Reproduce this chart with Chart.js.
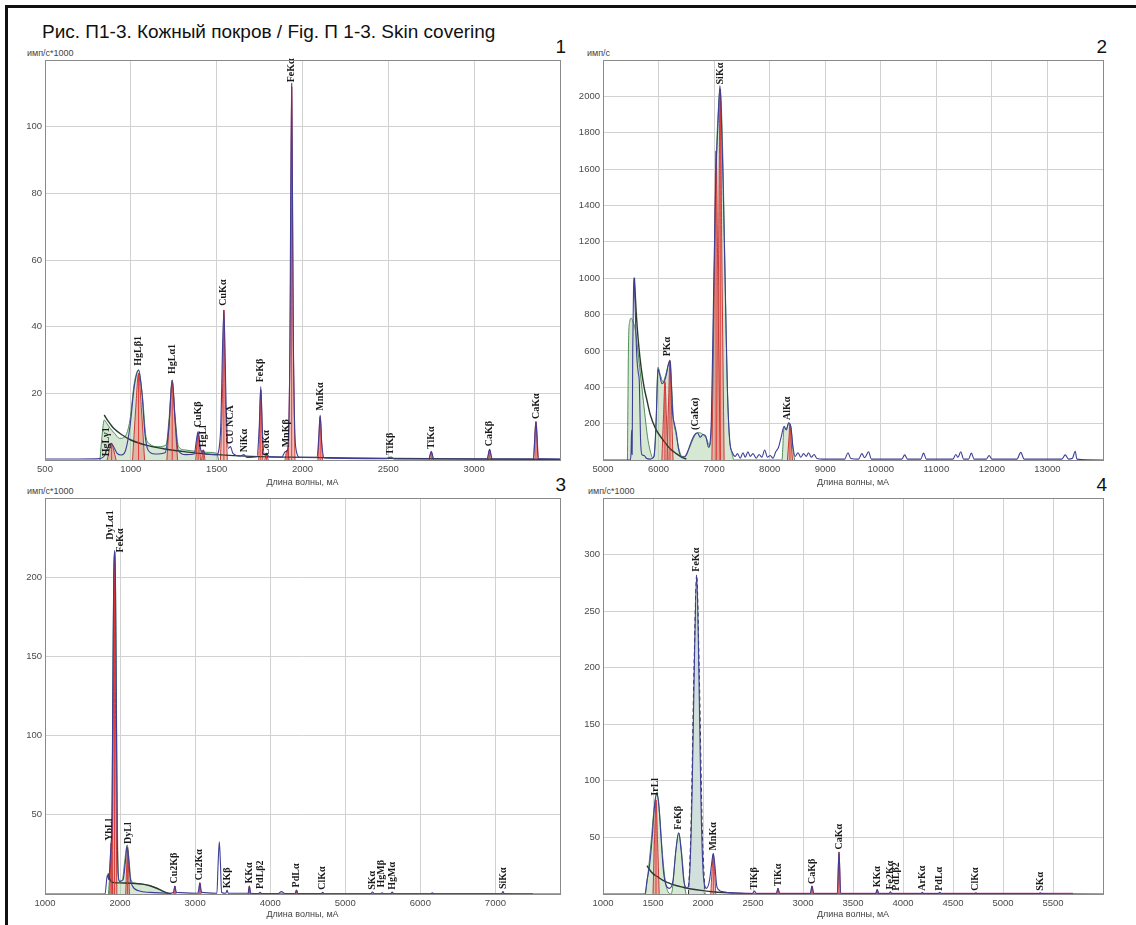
<!DOCTYPE html>
<html>
<head>
<meta charset="utf-8">
<script src="https://cdn.jsdelivr.net/npm/chart.js@4.4.1/dist/chart.umd.min.js"></script>
<style>
  html,body{margin:0;padding:0;background:#fff;}
  #wrap{position:relative;width:1136px;height:925px;overflow:hidden;background:#fff;font-family:'Liberation Sans',Arial,sans-serif;}
  canvas{position:absolute;}
  .txt{position:absolute;white-space:nowrap;color:#111;}
  .unit{position:absolute;white-space:nowrap;font-size:9px;color:#444;line-height:10px;}
  .num{position:absolute;font-size:19px;line-height:20px;color:#111;text-align:right;width:30px;}
  .bar{position:absolute;background:#111;}
</style>
</head>
<body>
<div id="wrap">
  <div class="bar" style="left:5px;top:5px;width:1131px;height:3px;"></div>
  <div class="bar" style="left:5px;top:5px;width:3px;height:920px;"></div>
  <div class="txt" style="left:42px;top:21px;font-size:19px;line-height:22px;">Рис. П1-3. Кожный покров / Fig. П 1-3. Skin covering</div>
  <div class="num" style="left:536px;top:37px;">1</div>
  <div class="num" style="left:1077px;top:37px;">2</div>
  <div class="num" style="left:536px;top:475px;">3</div>
  <div class="num" style="left:1077px;top:475px;">4</div>
  <div class="unit" style="left:27px;top:48px;">имп/с*1000</div>
  <div class="unit" style="left:587px;top:48px;">имп/с</div>
  <div class="unit" style="left:27px;top:486px;">имп/с*1000</div>
  <div class="unit" style="left:588px;top:486px;">имп/с*1000</div>
  <canvas id="c1" width="570" height="448" style="left:0px;top:40px;"></canvas>
  <canvas id="c2" width="548" height="448" style="left:565px;top:40px;"></canvas>
  <canvas id="c3" width="570" height="440" style="left:0px;top:480px;"></canvas>
  <canvas id="c4" width="548" height="440" style="left:565px;top:480px;"></canvas>
</div>
<script>
// ---------------- DATA ----------------
// Panel 1
const p1XTicks = [500, 1000, 1500, 2000, 2500, 3000];
const p1YTicks = [20, 40, 60, 80, 100];
const p1Measured = [[500,0.3],[700,0.3],[820,0.4],[845,1.2],[865,3.5],[885,5],[900,4],[920,2],[945,1.5],[970,3],[995,10],[1020,22],[1045,27],[1065,20],[1082,8],[1100,3],[1140,1.8],[1200,2.2],[1222,10],[1241,24],[1258,12],[1275,3],[1320,1.6],[1370,1.8],[1382,6],[1392,8.5],[1404,4],[1414,2.2],[1422,3],[1432,1.8],[1500,1.6],[1522,8],[1542,45],[1556,15],[1568,3.5],[1580,4],[1595,2],[1640,1.2],[1659,1.6],[1675,0.8],[1735,1],[1748,10],[1757,22],[1767,8],[1778,1.6],[1790,2],[1805,1],[1880,0.9],[1900,2.5],[1912,3],[1925,25],[1937,113],[1947,35],[1960,4],[1985,0.8],[2085,0.8],[2095,7],[2103,13.5],[2112,5],[2128,0.6],[2490,0.4],[2514,0.9],[2535,0.3],[2735,0.3],[2750,2.5],[2765,0.3],[3075,0.3],[3090,3.2],[3105,0.3],[3345,0.3],[3360,11.5],[3373,0.4],[3500,0.3]];
const p1Fit = [[820,0],[832,7],[845,12],[860,11],[880,9.5],[905,8],[935,6.5],[965,7],[995,12],[1020,23],[1045,27],[1068,19],[1088,7],[1110,4.8],[1160,4],[1205,4.5],[1222,12],[1241,24],[1258,13],[1278,4],[1320,3],[1380,2.6],[1392,8],[1405,3],[1450,2.3],[1500,2],[1512,0]];
const p1Bg = [[845,13.5],[870,11.5],[900,9.5],[950,7.5],[1000,6],[1100,4.3],[1200,3.3],[1300,2.6],[1400,2],[1500,1.6],[1700,1.1],[2000,0.8],[2500,0.5],[3000,0.3],[3500,0.2]];
const p1Peaks = [
  [[862,0],[875,3],[888,5],[900,3],[914,0]],
  [[1010,0],[1028,15],[1045,26],[1062,15],[1080,0]],
  [[1210,0],[1226,13],[1241,23.5],[1256,13],[1272,0]],
  [[1378,0],[1392,8],[1406,0]],
  [[1412,0],[1422,3],[1432,0]],
  [[1522,0],[1534,20],[1542,45],[1550,20],[1562,0]],
  [[1745,0],[1757,21],[1769,0]],
  [[1780,0],[1790,2],[1800,0]],
  [[1898,0],[1910,3],[1922,0]],
  [[1918,0],[1929,45],[1937,112],[1945,45],[1956,0]],
  [[2090,0],[2103,13],[2116,0]],
  [[2738,0],[2750,2.5],[2762,0]],
  [[3078,0],[3090,3],[3102,0]],
  [[3346,0],[3360,11.5],[3374,0]]
];
const p1Labels = [['HgLγ1',858,0.8],['HgLβ1',1045,28],['HgLα1',1241,25.5],['CuKβ',1392,9.5],['HgLl',1424,3.5],['CuKα',1542,46],['CU NCA',1580,4.5],['NiKα',1659,2],['FeKβ',1757,23],['CoKα',1792,1],['MnKβ',1905,3.5],['FeKα',1937,113],['MnKα',2103,14.5],['TiKβ',2514,1.2],['TiKα',2750,3],['CaKβ',3090,3.8],['CaKα',3360,12]];

// Panel 2
const p2XTicks = [5000, 6000, 7000, 8000, 9000, 10000, 11000, 12000, 13000];
const p2YTicks = [200, 400, 600, 800, 1000, 1200, 1400, 1600, 1800, 2000];
const p2Measured = [[5000,0],[5490,0],[5505,40],[5515,165],[5525,30],[5535,600],[5550,950],[5562,1005],[5575,880],[5590,720],[5610,560],[5635,480],[5655,420],[5675,120],[5700,30],[5740,25],[5780,10],[5850,5],[5920,20],[5960,250],[5990,500],[6020,470],[6060,420],[6100,430],[6140,470],[6180,530],[6205,550],[6230,420],[6255,250],[6285,200],[6320,150],[6360,60],[6420,15],[6480,20],[6540,60],[6600,110],[6650,140],[6700,150],[6750,125],[6800,140],[6850,130],[6900,70],[6950,220],[6990,900],[7030,1550],[7070,1850],[7105,2060],[7130,1900],[7160,1550],[7200,950],[7240,380],[7280,110],[7330,40],[7380,20],[7420,35],[7470,10],[7520,40],[7560,15],[7610,45],[7650,20],[7700,35],[7760,10],[7810,30],[7860,15],[7910,55],[7960,15],[8010,25],[8060,10],[8110,45],[8160,70],[8210,130],[8260,185],[8300,165],[8340,205],[8380,185],[8420,70],[8460,20],[8510,40],[8560,15],[8610,35],[8660,20],[8700,40],[8750,15],[8800,30],[8850,8],[8950,5],[9350,5],[9410,40],[9460,8],[9600,5],[9660,35],[9710,12],[9780,45],[9830,5],[10380,5],[10430,28],[10480,5],[10720,5],[10770,38],[10820,5],[11300,5],[11350,30],[11390,15],[11440,45],[11490,5],[11580,5],[11630,38],[11680,5],[11900,5],[11950,25],[12000,5],[12450,5],[12520,42],[12580,5],[13260,5],[13320,28],[13380,5],[13450,10],[13500,48],[13530,5],[14000,0]];
const p2Fit = [[5440,0],[5460,650],[5480,760],[5510,780],[5540,760],[5580,720],[5620,620],[5660,510],[5700,400],[5750,260],[5800,130],[5850,50],[5900,10],[5950,150],[5990,510],[6030,470],[6080,430],[6130,470],[6180,530],[6210,545],[6240,380],[6270,220],[6310,150],[6360,70],[6420,20],[6480,20],[6560,70],[6620,115],[6680,145],[6740,150],[6800,140],[6860,120],[6920,80],[6960,250],[7000,1000],[7040,1650],[7080,1950],[7110,2040],[7150,1750],[7190,1150],[7230,500],[7270,150],[7320,40],[7360,0],[8220,0],[8260,180],[8300,170],[8340,200],[8380,185],[8420,60],[8450,0]];
const p2Bg = [[5565,1000],[5600,800],[5640,640],[5690,500],[5740,400],[5790,330],[5850,250],[5950,170],[6070,115],[6200,65],[6320,35],[6420,15],[6500,5]];
const p2Peaks = [
  [[6060,0],[6090,250],[6115,430],[6140,250],[6170,0]],
  [[6150,0],[6180,320],[6205,545],[6230,320],[6260,0]],
  [[6960,0],[7000,900],[7035,1700],[7070,900],[7110,0]],
  [[7040,0],[7080,1100],[7110,2040],[7140,1100],[7180,0]],
  [[8320,0],[8345,110],[8365,195],[8385,110],[8410,0]]
];
const p2Labels = [['PKα',6165,565],['(CaKα)',6655,160],['SiKα',7105,2060],['AlKα',8320,215]];

// Panel 3
const p3XTicks = [1000, 2000, 3000, 4000, 5000, 6000, 7000];
const p3YTicks = [50, 100, 150, 200];
const p3Measured = [[1000,0],[1800,0],[1830,12],[1850,9],[1868,22],[1882,32],[1893,45],[1903,130],[1915,200],[1927,217],[1938,200],[1950,120],[1962,40],[1975,12],[1995,8],[2040,9],[2070,20],[2092,30],[2112,24],[2135,10],[2165,5],[2250,2],[2400,1],[2650,0.5],[2710,1],[2730,5],[2750,1],[3030,0.5],[3045,2],[3063,7],[3085,1],[3290,0.5],[3305,18],[3322,33],[3338,18],[3352,1],[3410,0.5],[3425,2.5],[3440,0.5],[3705,0.5],[3722,5],[3740,0.5],[3845,0.3],[3865,1],[3885,0.3],[4100,0.3],[4150,1.5],[4200,0.3],[4330,0.3],[4350,2.5],[4370,0.3],[4680,0.3],[4700,1],[4720,0.2],[5340,0.2],[5362,1.3],[5385,0.2],[5470,0.2],[5490,0.8],[5510,0.2],[5605,0.2],[5625,1.2],[5645,0.2],[6140,0.2],[6160,0.7],[6180,0.2],[7080,0.2],[7100,1.5],[7120,0.2],[7860,0]];
const p3Fit = [[1845,0],[1862,12],[1880,30],[1895,70],[1908,160],[1922,210],[1932,216],[1945,170],[1958,80],[1972,20],[1990,8],[2030,9],[2065,22],[2095,31],[2118,22],[2145,9],[2200,6.8],[2300,6.2],[2400,5.2],[2480,3.8],[2560,2],[2630,0.5],[2660,0]];
const p3Bg = [[1840,13],[1860,10],[1880,8],[1920,7.2],[2000,7],[2150,6.8],[2300,6.2],[2400,5.2],[2480,3.8],[2560,2],[2640,0.5],[2680,0]];
const p3Peaks = [
  [[1862,0],[1872,16],[1882,32],[1892,16],[1902,0]],
  [[1893,0],[1910,110],[1925,213],[1940,110],[1957,0]],
  [[2075,0],[2088,17],[2100,29],[2112,17],[2125,0]],
  [[2715,0],[2730,5],[2745,0]],
  [[3047,0],[3063,7],[3079,0]],
  [[3708,0],[3722,5],[3736,0]],
  [[4336,0],[4350,2.5],[4364,0]]
];
const p3Base = [[3800,0.3],[7500,0.3]];
const p3Labels = [['DyLα1',1878,223],['FeKα',2010,215],['YbLl',1862,33],['DyLl',2110,31],['Cu2Kβ',2730,6],['Cu2Kα',3063,8],['KKβ',3425,3],['KKα',3722,6],['PdLβ2',3870,2.5],['PdLα',4350,3.5],['ClKα',4700,2],['SKα',5362,2],['HgMβ',5480,3.5],['HgMα',5625,2],['SiKα',7100,2.5]];

// Panel 4
const p4XTicks = [1000, 1500, 2000, 2500, 3000, 3500, 4000, 4500, 5000, 5500];
const p4YTicks = [50, 100, 150, 200, 250, 300];
const p4Measured = [[1000,0],[1420,0],[1440,12],[1465,25],[1490,48],[1512,75],[1535,88],[1555,82],[1580,50],[1605,20],[1630,8],[1665,5],[1700,12],[1728,38],[1757,54],[1782,38],[1808,12],[1840,5],[1865,15],[1890,85],[1913,200],[1937,282],[1958,200],[1980,80],[2005,15],[2035,5],[2065,12],[2088,28],[2103,36],[2118,26],[2140,6],[2200,2],[2300,1],[2495,0.5],[2514,2.5],[2533,0.5],[2733,0.5],[2750,5],[2767,0.5],[3072,0.5],[3090,7],[3108,0.5],[3343,0.5],[3360,37],[3377,0.5],[3725,0.3],[3742,4],[3758,0.3],[3860,0.3],[3874,2],[3888,0.3],[4180,0.3],[4193,1.5],[4206,0.3],[4352,0.3],[4368,1.5],[4384,0.3],[4715,0.3],[4729,1],[4743,0.3],[5360,0.3],[5373,1],[5386,0.3],[6000,0]];
const p4Fit = [[1425,0],[1450,18],[1480,45],[1510,75],[1538,90],[1565,72],[1595,35],[1625,10],[1650,2],[1680,0],[1695,5],[1725,35],[1757,54],[1788,35],[1815,8],[1830,0]];
const p4FitFe = [[1855,0],[1880,60],[1910,200],[1937,282],[1962,200],[1992,60],[2020,0]];
const p4Bg = [[1440,25],[1470,21],[1500,18],[1550,15],[1600,12],[1650,10],[1700,8.3],[1800,6],[1900,4.2],[2000,3],[2100,2],[2200,1.3],[2300,0.8],[2400,0.5]];
const p4Peaks = [
  [[1500,0],[1515,48],[1530,83],[1545,48],[1562,0]],
  [[2078,0],[2090,20],[2103,35],[2116,20],[2128,0]],
  [[2738,0],[2750,5],[2762,0]],
  [[3078,0],[3090,7],[3102,0]],
  [[3346,0],[3360,37],[3374,0]],
  [[3730,0],[3742,4],[3754,0]]
];
const p4Base = [[2300,0.5],[5700,0.5]];
const p4Labels = [['IrLl',1528,86],['FeKβ',1757,56],['FeKα',1937,284],['MnKα',2103,37.5],['TiKβ',2514,3],['TiKα',2750,6],['CaKβ',3090,8],['CaKα',3360,38.5],['KKα',3742,5],['Fe2Kα',3874,3],['PdLβ2',3930,2],['ArKα',4193,2],['PdLα',4368,2],['ClKα',4729,2],['SKα',5373,2]];

// ---------------- RENDER ----------------
const pts = a => a.map(p => ({x: p[0], y: p[1]}));

const peakLabelPlugin = {
  id: 'peakLabels',
  afterDatasetsDraw(chart, args, opts) {
    const {ctx, scales: {x, y}} = chart;
    ctx.save();
    ctx.font = "bold 10px 'Liberation Serif', 'DejaVu Serif', serif";
    ctx.fillStyle = '#1a1a1a';
    ctx.textAlign = 'left';
    ctx.textBaseline = 'middle';
    (opts.labels || []).forEach(([t, xv, yv]) => {
      const px = x.getPixelForValue(xv), py = y.getPixelForValue(yv);
      ctx.save();
      ctx.translate(px, py - 1);
      ctx.rotate(-Math.PI / 2);
      ctx.fillText(t, 0, 0);
      ctx.restore();
    });
    ctx.restore();
  }
};
const framePlugin = {
  id: 'frame',
  afterDraw(chart) {
    const {ctx, chartArea: a} = chart;
    ctx.save();
    ctx.strokeStyle = '#8a8a8a';
    ctx.lineWidth = 1;
    ctx.strokeRect(Math.round(a.left) + 0.5, Math.round(a.top) + 0.5, Math.round(a.right - a.left), Math.round(a.bottom - a.top));
    ctx.restore();
  }
};

function centers(peaks) {
  const out = [];
  peaks.forEach(pk => {
    let top = pk[0];
    pk.forEach(p => { if (p[1] > top[1]) top = p; });
    out.push({x: top[0], y: 0}, {x: top[0], y: top[1]}, {x: top[0], y: null});
  });
  return out;
}

const tickFont = {family: "'Liberation Sans', Arial, sans-serif", size: 9.5};

function makeChart(id, c) {
  const ds = [];
  ds.push({data: pts(c.measured), borderColor: '#3e3e96', borderWidth: 1.1, fill: false, order: 0, cubicInterpolationMode: 'monotone'});
  ds.push({data: centers(c.peaks), borderColor: 'rgba(225,45,45,0.9)', borderWidth: 1, fill: false, order: 1, spanGaps: false});
  if (c.base) ds.push({data: pts(c.base), borderColor: '#d04ec6', borderWidth: 1.2, fill: false, order: 1});
  ds.push({data: pts(c.bg), borderColor: '#2a3b2e', borderWidth: 1.4, fill: false, order: 2, cubicInterpolationMode: 'monotone'});
  c.peaks.forEach(pk => ds.push({data: pts(pk), borderColor: '#c83a3a', borderWidth: 1, backgroundColor: 'rgba(232,140,125,0.55)', fill: 'origin', order: 3, cubicInterpolationMode: 'monotone'}));
  if (c.fitFe) ds.push({data: pts(c.fitFe), borderColor: '#333', borderDash: [4, 3], borderWidth: 1, backgroundColor: 'rgba(185,208,202,0.65)', fill: 'origin', order: 4, cubicInterpolationMode: 'monotone'});
  ds.push({data: pts(c.fit), borderColor: '#4f8f5a', borderWidth: 1, backgroundColor: 'rgba(165,202,160,0.45)', fill: 'origin', order: 5, cubicInterpolationMode: 'monotone'});
  ds.forEach(d => { d.showLine = true; d.pointRadius = 0; });

  return new Chart(document.getElementById(id), {
    type: 'scatter',
    data: {datasets: ds},
    options: {
      responsive: false, animation: false, devicePixelRatio: 1,
      layout: {padding: {top: c.padTop, right: c.padRight, left: 0, bottom: 0}},
      plugins: {legend: {display: false}, tooltip: {enabled: false}, peakLabels: {labels: c.labels}},
      scales: {
        x: {
          type: 'linear', min: c.xMin, max: c.xMax,
          afterBuildTicks: s => { s.ticks = c.xTicks.map(v => ({value: v})); },
          afterFit: s => { s.height = c.H; },
          grid: {color: '#d2d2d2', drawTicks: false},
          border: {display: false},
          ticks: {padding: 4, color: '#4a4a4a', font: tickFont, maxRotation: 0, autoSkip: false, callback: v => String(v)},
          title: {display: true, text: 'Длина волны, мА', color: '#444', padding: 0, font: {family: "'Liberation Sans', Arial, sans-serif", size: 9}}
        },
        y: {
          type: 'linear', min: 0, max: c.yMax,
          afterBuildTicks: s => { s.ticks = c.yTicks.map(v => ({value: v})); },
          afterFit: s => { s.width = c.W; },
          grid: {color: '#d2d2d2', drawTicks: false},
          border: {display: false},
          ticks: {padding: 3, color: '#4a4a4a', font: tickFont, callback: v => String(v)}
        }
      }
    },
    plugins: [peakLabelPlugin, framePlugin]
  });
}

makeChart('c1', {measured: p1Measured, fit: p1Fit, bg: p1Bg, peaks: p1Peaks, labels: p1Labels,
  xMin: 500, xMax: 3500, xTicks: p1XTicks, yMax: 120, yTicks: p1YTicks, W: 45, H: 28, padTop: 20, padRight: 10});
makeChart('c2', {measured: p2Measured, fit: p2Fit, bg: p2Bg, peaks: p2Peaks, labels: p2Labels,
  xMin: 5000, xMax: 14000, xTicks: p2XTicks, yMax: 2200, yTicks: p2YTicks, W: 38, H: 28, padTop: 20, padRight: 10});
makeChart('c3', {measured: p3Measured, fit: p3Fit, bg: p3Bg, peaks: p3Peaks, labels: p3Labels, base: p3Base,
  xMin: 1000, xMax: 7860, xTicks: p3XTicks, yMax: 250, yTicks: p3YTicks, W: 45, H: 26, padTop: 18, padRight: 10});
makeChart('c4', {measured: p4Measured, fit: p4Fit, fitFe: p4FitFe, bg: p4Bg, peaks: p4Peaks, labels: p4Labels, base: p4Base,
  xMin: 1000, xMax: 6000, xTicks: p4XTicks, yMax: 350, yTicks: p4YTicks, W: 38, H: 26, padTop: 18, padRight: 10});
</script>
</body>
</html>
